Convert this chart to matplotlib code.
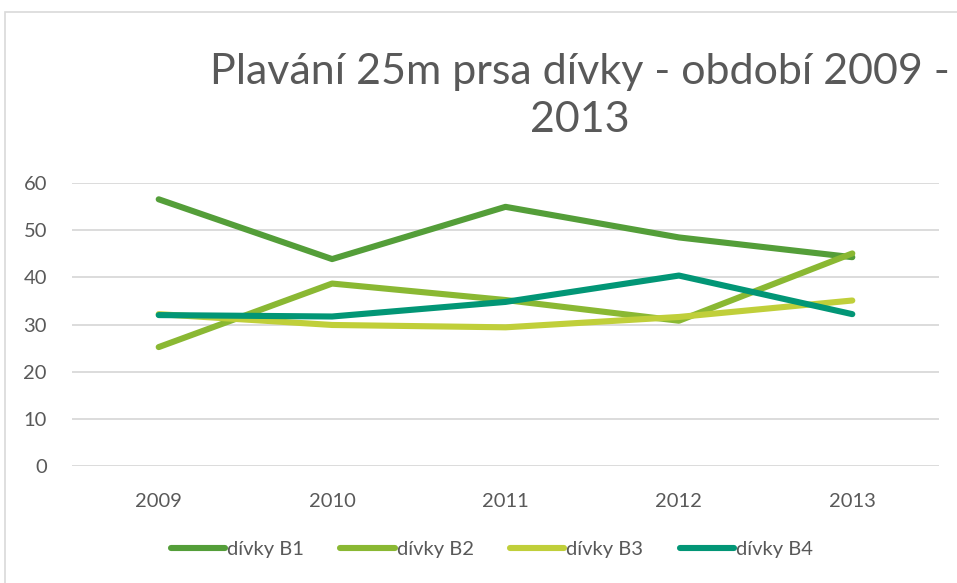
import matplotlib
matplotlib.use("Agg")
import matplotlib.pyplot as plt
from matplotlib.patches import Rectangle

plt.rcParams['font.family'] = ['Lato', 'DejaVu Sans']

years = ["2009", "2010", "2011", "2012", "2013"]
series_names = ["dívky B1", "dívky B2", "dívky B3", "dívky B4"]
b1 = [56.6, 43.9, 55.0, 48.5, 44.3]
b2 = [25.2, 38.7, 35.2, 30.8, 45.1]
b3 = [32.2, 29.9, 29.4, 31.6, 35.1]
b4 = [32.0, 31.7, 34.8, 40.4, 32.2]
colors = ["#549E39", "#8AB833", "#C0CF3A", "#029676"]
yticks = [0, 10, 20, 30, 40, 50, 60]
title = "Plavání 25m prsa dívky - období 2009 -\n2013"

W, H = 957, 583
fig = plt.figure(figsize=(W / 100, H / 100), dpi=100)

# chart area border (extends beyond the right edge)
fig.patches.append(Rectangle((5 / W, -0.1), 1.2, 1 - 12 / H + 0.1,
                             transform=fig.transFigure, fill=False,
                             edgecolor="#D9D9D9", linewidth=1.2))

ax = fig.add_axes([72 / W, 1 - 465.7 / H, (939 - 72) / W, (465.7 - 183.3) / H])
x = list(range(len(years)))
for vals, name, c in zip([b1, b2, b3, b4], series_names, colors):
    ax.plot(x, vals, color=c, linewidth=4.4, solid_capstyle="round",
            solid_joinstyle="round", label=name, clip_on=False, zorder=3)

ax.set_xlim(-0.5, len(years) - 0.5)
ax.set_ylim(0, 60)
ax.set_yticks(yticks)
ax.set_xticks(x)
ax.set_xticklabels(years)
ax.grid(axis="y", color="#D9D9D9", linewidth=1.3)
ax.set_axisbelow(True)
for s in ax.spines.values():
    s.set_visible(False)
ax.tick_params(axis="both", length=0, labelsize=14.5, colors="#595959")
ax.tick_params(axis="y", pad=18)
ax.tick_params(axis="x", pad=20)

fig.text(580 / W, 1 - 96 / H, title, ha="center", va="center",
         fontsize=31, color="#595959", fontweight="normal", linespacing=1.35)

fig.legend(loc="center", bbox_to_anchor=(492 / W, 1 - 549 / H), ncol=4,
           frameon=False, fontsize=14.5, labelcolor="#595959",
           handlelength=2.7, handletextpad=0.1, columnspacing=1.8)

fig.savefig("out.png", dpi=100)
